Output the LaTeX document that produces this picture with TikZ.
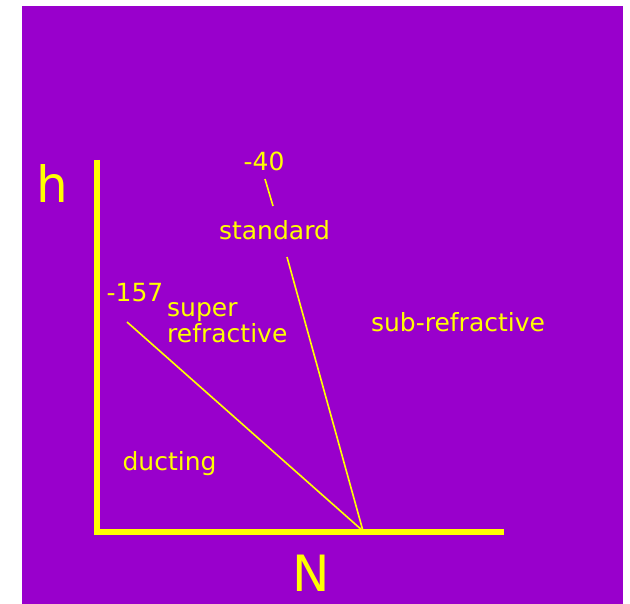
\documentclass[tikz,border=0pt]{standalone}
\usepackage{fontspec}
\setmainfont{DejaVu Sans}
\usetikzlibrary{positioning}
\definecolor{bgpurple}{HTML}{9900CC}
\definecolor{lineyellow}{HTML}{FFFF00}

\begin{document}
\begin{tikzpicture}[
  x=1pt,y=-1pt,
  axis/.style={lineyellow,line width=6pt},
  boundary/.style={lineyellow,line width=1.6pt},
  region/.style={text=lineyellow,inner sep=0pt,font=\fontsize{25}{30}\selectfont},
  axislabel/.style={text=lineyellow,inner sep=0pt,font=\fontsize{50}{60}\selectfont}
]
  \useasboundingbox (0,0) rectangle (630,604);
  \fill[bgpurple] (22,6) rectangle (623,604);

  \coordinate (origin) at (97,532);
  \coordinate (htop) at (97,160);
  \coordinate (nend) at (504,532);
  \coordinate (meet) at (363,531);
  \coordinate (ductstart) at (127,322);
  \coordinate (stdtop) at (265,179);
  \coordinate (stdgapa) at (273,206);
  \coordinate (stdgapb) at (287,257);

  \draw[axis] (htop) -- (origin) -- (nend);
  \draw[boundary] (ductstart) -- (meet);
  \draw[boundary] (stdtop) -- (stdgapa);
  \draw[boundary] (stdgapb) -- (meet);

  \node[axislabel,anchor=base] (h) at (52,203) {h};
  \node[axislabel,anchor=base] (n) at (311,591) {N};
  \node[region,anchor=base] (m40) at (264,171) {-40};
  \node[region,anchor=base] (std) at (274.5,240) {standard};
  \node[region,anchor=base] (m157) at (135,302) {-157};
  \node[region,anchor=base west] (super) at (167,317) {super};
  \node[region,anchor=base west] (refr) at (167,343) {refractive};
  \node[region,anchor=base] (sub) at (458,332) {sub-refractive};
  \node[region,anchor=base] (duct) at (169.5,470) {ducting};
\end{tikzpicture}
\end{document}
